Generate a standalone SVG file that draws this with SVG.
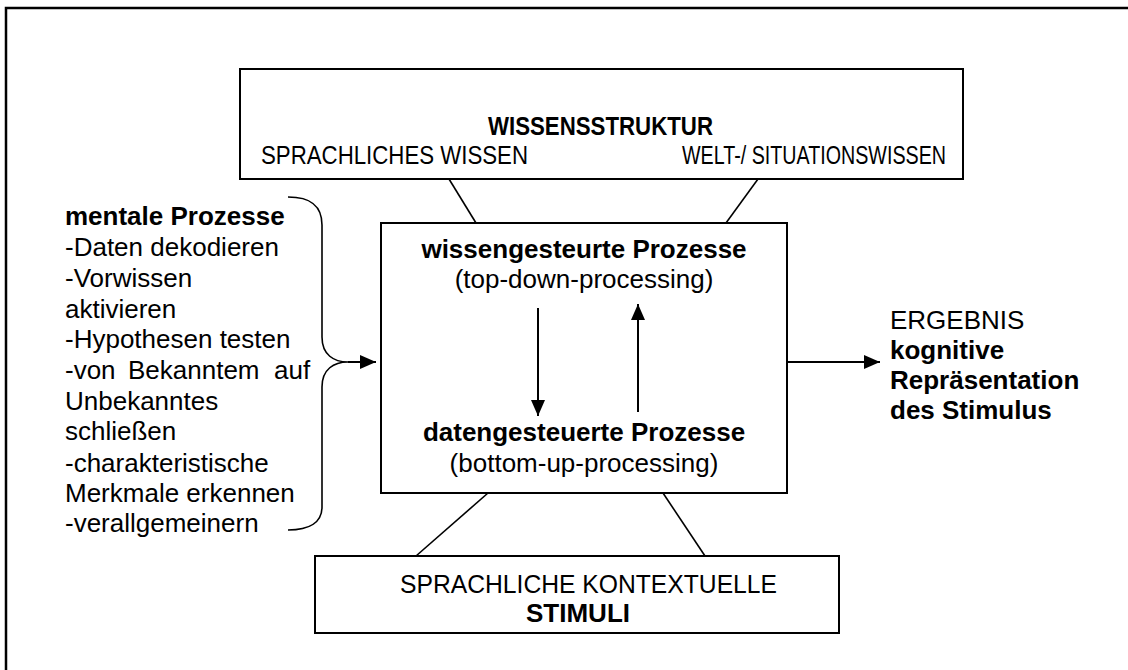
<svg xmlns="http://www.w3.org/2000/svg" width="1128" height="670" viewBox="0 0 1128 670">
<style>
text{font-family:"Liberation Sans",Arial,sans-serif;fill:#000}
.t{font-size:26px}
.b{font-weight:bold}
.box{fill:#fff;stroke:#000;stroke-width:2}
.ln{stroke:#000;stroke-width:1.6;fill:none}
.ar{stroke:#000;stroke-width:2;fill:none;marker-end:url(#ah)}
</style>
<defs>
<marker id="ah" markerUnits="userSpaceOnUse" markerWidth="16" markerHeight="14" refX="16" refY="7" orient="auto">
<path d="M0,0 L16,7 L0,14 z" fill="#000"/>
</marker>
</defs>
<rect width="1128" height="670" fill="#fff"/>
<path d="M6,670 V8 H1128" fill="none" stroke="#000" stroke-width="2.5"/>
<g id="wissensstruktur">
<rect class="box" x="240" y="69" width="723" height="110"/>
<text class="t b" x="488" y="135" textLength="225" lengthAdjust="spacingAndGlyphs">WISSENSSTRUKTUR</text>
<text class="t" x="261" y="164" textLength="267" lengthAdjust="spacingAndGlyphs">SPRACHLICHES WISSEN</text>
<text class="t" x="682" y="164" textLength="264" lengthAdjust="spacingAndGlyphs">WELT-/ SITUATIONSWISSEN</text>
</g>
<g id="prozesse">
<rect class="box" x="381" y="223" width="406" height="270"/>
<text class="t b" x="584" y="258" text-anchor="middle">wissengesteurte Prozesse</text>
<text class="t" x="584" y="288" text-anchor="middle">(top-down-processing)</text>
<text class="t b" x="584" y="441" text-anchor="middle">datengesteuerte Prozesse</text>
<text class="t" x="584" y="472" text-anchor="middle">(bottom-up-processing)</text>
</g>
<g id="stimuli">
<rect class="box" x="315" y="556" width="524" height="77"/>
<text class="t" x="400" y="593" textLength="377" lengthAdjust="spacingAndGlyphs">SPRACHLICHE KONTEXTUELLE</text>
<text class="t b" x="578" y="622" text-anchor="middle">STIMULI</text>
</g>
<g id="mentale">
<text class="t b" x="65" y="225">mentale Prozesse</text>
<text class="t" x="65" y="256">-Daten dekodieren</text>
<text class="t" x="65" y="287">-Vorwissen</text>
<text class="t" x="65" y="318">aktivieren</text>
<text class="t" x="65" y="348">-Hypothesen testen</text>
<text class="t" y="379"><tspan x="65">-von</tspan><tspan x="128">Bekanntem</tspan><tspan x="274">auf</tspan></text>
<text class="t" x="65" y="410">Unbekanntes</text>
<text class="t" x="65" y="440">schließen</text>
<text class="t" x="65" y="472">-charakteristische</text>
<text class="t" x="65" y="502">Merkmale erkennen</text>
<text class="t" x="65" y="532">-verallgemeinern</text>
</g>
<g id="ergebnis">
<text class="t" x="890" y="329">ERGEBNIS</text>
<text class="t b" x="890" y="359">kognitive</text>
<text class="t b" x="890" y="389">Repräsentation</text>
<text class="t b" x="890" y="419">des Stimulus</text>
</g>
<g id="connectors">
<line class="ln" x1="449" y1="179" x2="476" y2="223"/>
<line class="ln" x1="758" y1="179" x2="726" y2="223"/>
<line class="ln" x1="488" y1="493" x2="416" y2="556"/>
<line class="ln" x1="663" y1="493" x2="705" y2="556"/>
<path class="ln" d="M288,197 C310,197 322,205 322,225 L322,337 C322,355 334,362 348,362 C334,362 322,369 322,387 L322,507 C322,522 310,530 288,530"/>
<line class="ar" x1="348" y1="362" x2="376" y2="362"/>
<line class="ar" x1="538" y1="308" x2="538" y2="416"/>
<line class="ar" x1="638" y1="412" x2="638" y2="304"/>
<line class="ar" x1="787" y1="362" x2="880" y2="362"/>
</g>
</svg>
